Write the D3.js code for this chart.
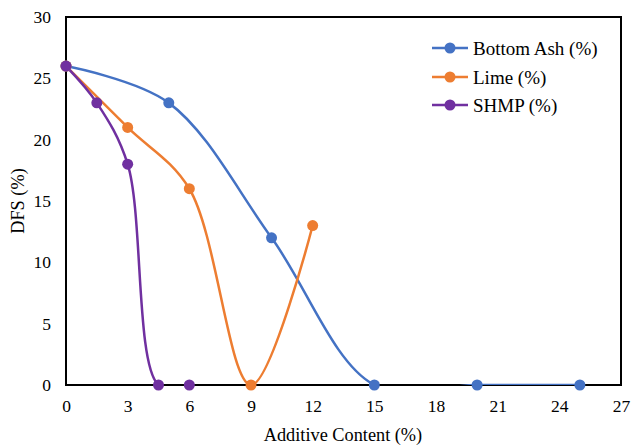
<!DOCTYPE html>
<html>
<head>
<meta charset="utf-8">
<script src="https://cdn.jsdelivr.net/npm/d3@7"></script>
<style>
  body { margin: 0; background: #fff; }
  text { font-family: "Liberation Serif", "Times New Roman", serif; fill: #000; }
</style>
</head>
<body>
<svg id="chart" width="631" height="446"></svg>
<script>
"use strict"
// DFS vs additive content, three additives, smoothed lines like the spreadsheet original

var seriesNames = ["Bottom Ash (%)", "Lime (%)", "SHMP (%)"],
    seriesColors = ["#4472C4", "#ED7D31", "#7030A0"],
    bottomAshX = [0, 5, 10, 15, 20, 25],
    bottomAshY = [26, 23, 12, 0, 0, 0],
    limeX = [0, 3, 6, 9, 12],
    limeY = [26, 21, 16, 0, 13],
    shmpX = [0, 1.5, 3, 4.5, 6],
    shmpY = [26, 23, 18, 0, 0],
    xTicks = [0, 3, 6, 9, 12, 15, 18, 21, 24, 27],
    yTicks = [0, 5, 10, 15, 20, 25, 30];

var svg = d3.select("svg#chart"),
    plot = {left: 66, right: 621, top: 17, bottom: 385};

var x = d3.scaleLinear().domain([0, 27]).range([plot.left, plot.right]),
    y = d3.scaleLinear().domain([0, 30]).range([plot.bottom, plot.top]);

function zip(xs, ys) { return xs.map(function(v, i) { return [v, ys[i]]; }); }
var series = [zip(bottomAshX, bottomAshY), zip(limeX, limeY), zip(shmpX, shmpY)];

// clip lines to plot area (spreadsheet does the same)
svg.append("clipPath").attr("id", "plotclip")
  .append("rect")
    .attr("x", plot.left).attr("y", plot.top)
    .attr("width", plot.right - plot.left).attr("height", plot.bottom - plot.top);

// axes, no tick marks
var xAxis = svg.append("g")
    .attr("transform", "translate(0," + plot.bottom + ")")
    .call(d3.axisBottom(x).tickValues(xTicks).tickSize(0).tickPadding(15));
var yAxis = svg.append("g")
    .attr("transform", "translate(" + plot.left + ",0)")
    .call(d3.axisLeft(y).tickValues(yTicks).tickSize(0).tickPadding(15));
[xAxis, yAxis].forEach(function(a) {
  a.select(".domain").remove();
  a.selectAll("text").style("font-size", "17.5px").style("font-family", "Liberation Serif");
});

// plot frame
svg.append("rect")
    .attr("x", plot.left).attr("y", plot.top)
    .attr("width", plot.right - plot.left).attr("height", plot.bottom - plot.top)
    .attr("fill", "none").attr("stroke", "#000").attr("stroke-width", 2);

var line = d3.line()
    .x(function(d) { return x(d[0]); })
    .y(function(d) { return y(d[1]); })
    .curve(d3.curveCatmullRom.alpha(0.5));

var lines = svg.append("g").attr("clip-path", "url(#plotclip)");
series.forEach(function(s, i) {
  lines.append("path")
      .attr("d", line(s))
      .attr("fill", "none")
      .attr("stroke", seriesColors[i])
      .attr("stroke-width", 2.5);
});

// markers drawn on top, last series uppermost
series.forEach(function(s, i) {
  svg.append("g").selectAll("circle")
      .data(s)
    .enter().append("circle")
      .attr("cx", function(d) { return x(d[0]); })
      .attr("cy", function(d) { return y(d[1]); })
      .attr("r", 5.5)
      .attr("fill", seriesColors[i]);
});

// legend
var legend = svg.append("g");
[48, 77, 105].forEach(function(ly, i) {
  legend.append("line")
      .attr("x1", 432).attr("x2", 468).attr("y1", ly).attr("y2", ly)
      .attr("stroke", seriesColors[i]).attr("stroke-width", 2.5);
  legend.append("circle")
      .attr("cx", 450).attr("cy", ly).attr("r", 5.5).attr("fill", seriesColors[i]);
  legend.append("text")
      .attr("x", 473).attr("y", ly).attr("dy", "0.35em")
      .style("font-size", "19px")
      .text(seriesNames[i]);
});

// axis titles
svg.append("text")
    .attr("x", 343).attr("y", 441)
    .attr("text-anchor", "middle")
    .style("font-size", "18.3px")
    .text("Additive Content (%)");
svg.append("text")
    .attr("transform", "translate(24," + ((plot.top + plot.bottom) / 2) + ") rotate(-90)")
    .attr("text-anchor", "middle")
    .style("font-size", "18.3px")
    .text("DFS (%)");
</script>
</body>
</html>
